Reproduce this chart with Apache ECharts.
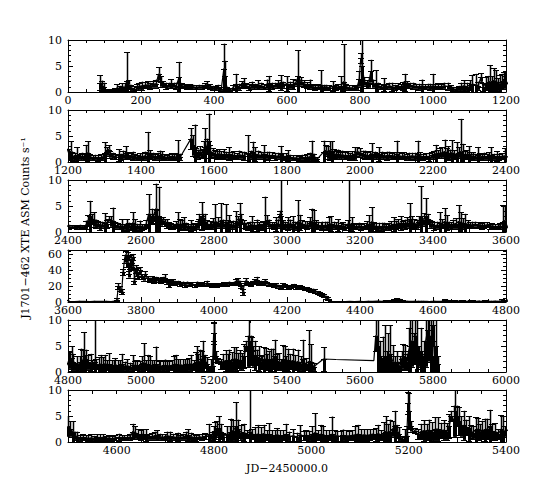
<!DOCTYPE html>
<html><head><meta charset="utf-8">
<script src="https://cdn.jsdelivr.net/npm/echarts@6/dist/echarts.min.js"></script>
<style>html,body{margin:0;padding:0;background:#fff}#c{width:541px;height:491px}</style>
</head><body><div id="c"></div>
<script>
// ---- Light curve data (JD-2450000, rate, 1-sigma error) ----
const t1=[88,93,98,104,112,120,128,135,142,149,
156,161,166,172,180,188,195,202,210,218,
226,234,242,248,254,260,268,276,283,290,
297,304,311,318,326,334,342,350,358,366,
374,380,388,396,404,412,420,427,430,436,
444,452,460,468,476,481,488,496,504,512,
520,528,536,544,550,558,566,574,583,590,
600,608,616,624,631,638,646,654,663,670,
678,686,692,700,708,716,725,733,741,748,
755,762,770,777,785,792,798,802,806,812,
818,824,830,836,843,850,858,865,872,880,
888,896,904,912,918,923,930,938,946,954,
962,970,978,986,993,999,1006,1014,1022,1030,
1040,1048,1056,1064,1072,1078,1084,1092,1100,1108,
1117,1124,1131,1137,1144,1150,1155,1161,1166,1172,
1177,1183,1189,1194,1198];
const v1=[1.8,1.2,0.9,0.3,0.2,0.3,0.4,0.8,0.6,1.0,
0.9,2.2,1.4,0.8,0.6,1.0,1.1,1.2,1.3,1.4,
1.2,1.5,1.6,3.5,2.0,1.5,1.2,1.3,1.6,1.3,
1.2,2.8,1.2,1.1,1.0,1.1,1.0,0.9,1.0,1.0,
1.2,1.4,1.0,0.8,0.7,0.9,0.6,4.5,3.0,0.6,
0.4,0.8,1.5,1.0,1.4,1.7,1.2,1.0,1.3,1.1,
1.4,1.2,1.0,1.5,1.6,1.2,1.3,1.5,1.8,1.4,
1.6,1.3,1.5,1.8,3.0,2.0,1.6,1.3,1.5,1.0,
0.8,1.0,1.4,0.9,1.0,0.8,1.1,0.9,1.0,1.1,
2.0,1.0,0.8,0.8,0.7,0.9,2.5,6.5,5.0,2.0,
1.5,1.8,4.0,1.6,1.5,1.2,1.0,1.4,1.0,1.2,
1.0,0.9,1.1,1.0,1.2,1.8,1.5,1.3,1.2,1.1,
1.0,1.2,1.0,1.1,1.0,1.2,1.0,1.1,1.0,1.2,
1.1,0.8,0.6,0.5,0.7,1.0,1.2,1.0,1.3,1.5,
1.4,1.2,2.8,1.0,1.6,1.8,2.0,1.5,2.2,2.0,
1.4,1.6,2.0,2.2,2.5];
const e1=[1.4,1.0,0.9,0.2,0.2,0.2,0.3,0.7,0.6,0.7,
0.8,5.4,0.9,0.6,0.5,0.6,0.7,0.8,0.6,0.7,
0.6,0.7,0.8,1.3,1.0,0.6,0.6,0.5,0.9,0.5,
0.6,3.0,0.5,0.4,0.4,0.4,0.4,0.4,0.4,0.4,
0.5,0.7,0.5,0.4,0.4,0.5,0.4,4.8,3.0,0.4,
0.3,0.5,2.0,0.6,0.7,1.0,0.5,0.6,0.7,0.5,
0.9,0.6,0.5,0.9,1.5,0.6,0.5,0.8,1.4,0.6,
1.4,0.7,1.0,0.6,5.0,0.8,0.7,0.6,0.9,0.5,
0.5,0.5,2.8,0.5,0.4,0.5,1.0,0.5,0.5,1.9,
7.2,0.6,0.5,0.5,0.4,0.5,1.5,1.0,5.5,0.8,
0.8,1.0,2.2,0.8,2.7,0.6,0.5,1.3,0.5,0.6,
0.8,0.5,0.6,0.5,0.8,1.7,0.6,0.5,0.6,0.5,
0.6,1.2,0.5,0.5,0.6,2.3,0.5,0.6,0.5,0.6,
0.7,0.5,0.4,0.4,0.5,0.8,1.1,0.8,1.0,1.8,
2.1,0.8,0.8,0.8,1.2,1.3,3.2,1.5,2.4,2.2,
1.2,1.7,1.5,1.6,1.3];

const t2=[1203,1207,1212,1218,1225,1232,1238,1245,1250,1255,
1261,1268,1275,1282,1290,1296,1301,1306,1311,1316,
1323,1330,1339,1346,1352,1358,1365,1372,1377,1384,
1390,1397,1404,1411,1419,1425,1432,1439,1446,1452,
1457,1464,1470,1477,1484,1490,1496,1502,1508,1537,
1543,1547,1552,1557,1562,1567,1572,1575,1580,1585,
1590,1596,1602,1608,1614,1620,1627,1634,1641,1648,
1655,1662,1669,1676,1683,1693,1700,1707,1712,1720,
1728,1736,1744,1752,1760,1768,1776,1783,1790,1796,
1802,1809,1816,1824,1832,1840,1848,1856,1862,1868,
1875,1882,1901,1906,1912,1918,1922,1928,1934,1940,
1946,1952,1960,1966,1972,1979,1986,1993,2000,2007,
2014,2020,2027,2033,2040,2046,2052,2059,2066,2073,
2080,2087,2093,2100,2107,2114,2121,2128,2135,2142,
2150,2158,2165,2172,2180,2189,2196,2202,2208,2214,
2220,2226,2232,2237,2241,2246,2251,2258,2265,2271,
2276,2281,2287,2292,2298,2304,2310,2316,2322,2328,
2334,2340,2347,2354,2360,2367,2375,2381,2388,2397];
const v2=[1.5,2.0,1.2,1.0,1.3,1.0,1.1,0.9,1.5,1.8,
1.0,0.8,0.9,0.8,0.9,1.0,1.8,2.0,2.4,1.5,
1.2,1.0,1.3,1.0,1.4,1.8,1.3,1.2,1.2,1.0,
0.9,1.1,1.0,1.2,1.8,1.5,1.2,1.0,1.1,1.3,
1.2,1.0,0.9,1.0,1.1,0.9,1.0,1.5,1.0,4.5,
3.2,2.8,1.8,1.5,2.0,1.6,2.5,2.8,3.0,4.0,
2.0,1.8,1.5,1.4,1.6,1.3,1.5,1.3,1.6,1.2,
1.3,1.1,1.4,1.3,1.2,1.7,1.4,1.9,1.5,1.4,
1.3,1.6,1.3,1.2,1.3,1.1,1.2,1.5,1.1,1.0,
1.2,0.9,0.8,0.8,0.7,0.9,0.8,0.9,1.0,1.6,
1.0,0.5,2.0,2.2,1.8,2.2,2.0,1.6,1.4,1.5,
1.3,1.4,1.2,1.3,1.1,1.3,1.6,2.0,1.8,1.5,
1.4,1.2,1.3,1.6,1.3,1.2,1.5,1.3,1.2,1.2,
1.3,1.1,1.2,1.6,1.2,1.1,1.2,1.0,1.1,1.2,
1.1,1.5,1.2,1.0,1.1,1.0,1.3,1.4,1.6,1.5,
1.7,1.8,2.0,1.6,1.7,1.5,1.8,1.4,1.6,1.8,
2.0,1.5,1.3,1.4,1.5,1.2,1.1,1.0,1.3,1.0,
0.9,1.1,1.0,1.1,1.3,1.0,1.1,1.0,1.1,1.2];
const e2=[1.0,2.0,0.8,0.8,1.5,0.6,0.7,0.6,1.8,2.2,
0.6,0.5,0.5,0.6,0.6,0.6,2.0,0.8,0.8,0.7,
0.6,0.5,1.2,0.6,0.8,1.2,0.6,0.6,0.8,0.6,
0.5,0.6,0.7,0.8,4.0,0.8,0.6,0.6,0.7,0.9,
0.9,0.5,0.5,0.6,0.6,0.6,0.7,2.7,0.6,2.0,
2.0,4.4,0.8,0.9,1.0,0.8,1.5,3.7,1.5,5.3,
1.2,0.8,0.8,0.8,0.9,0.8,1.0,0.7,1.2,0.7,
0.8,0.6,0.8,0.7,0.8,3.5,0.8,2.0,1.3,0.8,
0.7,1.6,0.7,0.8,0.6,0.7,0.6,1.6,0.6,0.7,
1.1,0.5,0.5,0.5,0.5,0.5,0.6,0.6,0.8,2.5,
0.6,0.4,2.1,1.0,1.2,1.8,2.0,0.9,0.8,0.9,
0.7,0.8,0.7,0.8,0.7,0.8,1.2,0.8,0.8,0.7,
0.8,0.7,0.8,2.0,0.7,0.6,1.3,0.7,0.6,0.8,
0.7,0.6,0.7,2.5,0.7,0.6,0.7,0.6,0.7,0.6,
0.7,2.6,0.7,0.6,0.6,0.8,0.7,0.8,1.7,0.8,
0.9,1.0,2.3,1.0,1.3,0.9,2.4,0.9,2.2,1.0,
6.3,2.0,0.8,0.9,1.5,0.7,0.8,0.6,1.6,0.7,
0.6,0.7,0.6,0.8,1.5,0.6,1.0,0.6,0.6,1.5];

const t3=[2403,2410,2418,2425,2432,2438,2444,2450,2455,2460,
2466,2471,2477,2482,2488,2494,2501,2507,2513,2518,
2523,2530,2537,2543,2548,2555,2562,2568,2572,2577,
2584,2590,2596,2602,2608,2614,2621,2626,2631,2634,
2640,2644,2649,2654,2660,2665,2671,2677,2683,2689,
2695,2700,2706,2712,2718,2724,2730,2737,2743,2749,
2755,2760,2766,2771,2776,2782,2788,2793,2798,2804,
2811,2818,2825,2832,2837,2841,2847,2853,2860,2865,
2870,2875,2881,2887,2893,2898,2903,2910,2917,2923,
2929,2935,2941,2946,2952,2958,2964,2970,2976,2981,
2984,2989,2995,3002,3008,3016,3022,3030,3036,3042,
3048,3055,3062,3068,3074,3080,3086,3092,3097,3104,
3110,3115,3121,3128,3134,3140,3147,3154,3160,3166,
3169,3177,3184,3190,3197,3204,3211,3218,3226,3232,
3238,3245,3252,3259,3266,3272,3279,3285,3292,3298,
3304,3311,3318,3324,3330,3337,3343,3349,3355,3362,
3368,3374,3380,3385,3391,3397,3403,3410,3418,3424,
3432,3437,3443,3450,3456,3462,3470,3476,3483,3489,
3495,3502,3508,3515,3522,3528,3534,3541,3548,3556,
3563,3570,3577,3584,3592,3597];
const v3=[1.0,1.0,1.0,0.9,1.0,1.0,1.0,1.4,2.2,3.0,
2.5,2.4,1.6,1.5,1.2,1.4,1.8,1.5,2.5,2.0,
2.2,1.3,1.2,1.0,1.2,1.0,1.3,1.2,1.0,1.8,
1.2,1.0,1.2,0.9,1.0,1.5,3.5,2.5,3.0,2.8,
4.5,3.0,3.0,2.0,2.2,1.8,1.6,1.3,1.2,1.1,
1.4,1.6,1.4,1.5,1.6,1.2,1.0,1.2,1.0,1.1,
1.4,2.5,3.0,2.6,2.0,1.5,1.4,1.3,1.6,2.0,
1.8,2.2,1.6,2.0,1.5,1.6,1.3,1.4,1.8,2.0,
2.5,2.5,1.5,1.2,1.0,1.2,1.4,1.2,1.3,1.2,
1.0,1.3,2.0,2.2,1.6,1.3,1.2,1.5,1.6,3.5,
3.0,1.5,1.3,1.6,1.5,1.5,1.2,2.0,1.8,1.5,
1.4,1.3,1.8,2.0,1.8,1.5,1.3,1.2,1.2,1.3,
1.2,1.4,1.6,1.3,1.2,1.3,1.1,1.2,1.0,1.5,
1.5,1.5,1.1,1.0,1.2,1.0,1.1,1.3,1.5,2.0,
1.2,1.0,1.1,1.0,1.2,1.0,1.1,1.3,1.5,1.4,
1.6,1.7,1.4,1.5,1.8,2.5,1.8,1.6,1.5,2.0,
3.0,2.4,3.0,2.5,1.6,1.5,1.2,1.3,1.8,1.6,
2.0,1.8,1.3,1.2,1.5,1.6,2.0,1.8,1.6,1.6,
1.5,1.3,1.4,1.5,1.3,1.4,1.2,1.3,1.4,1.1,
1.2,1.0,1.1,1.2,2.0,2.2];
const e3=[0.4,0.3,0.3,0.3,0.4,0.3,0.3,0.8,1.0,3.0,
1.0,1.4,0.8,0.7,0.8,0.6,1.8,0.8,0.5,1.0,
2.5,0.7,0.6,0.5,1.3,0.6,1.2,0.6,0.6,2.0,
1.3,0.6,1.0,0.6,0.5,0.8,3.8,1.0,1.5,0.7,
4.8,1.3,5.7,0.8,0.6,0.7,0.9,0.6,0.6,0.5,
0.7,2.2,1.1,0.9,1.2,0.6,0.6,1.1,0.6,0.6,
0.8,1.0,2.7,0.9,1.5,0.8,0.7,0.8,1.0,3.3,
1.0,3.3,0.8,3.3,0.8,1.6,0.7,0.8,2.2,1.0,
3.1,1.0,0.8,0.6,0.7,0.8,1.6,0.7,1.1,0.7,
0.6,0.8,4.8,1.0,0.8,0.6,0.7,1.3,0.8,0.6,
7.5,0.8,0.7,1.2,0.9,1.5,0.8,4.1,1.5,0.8,
0.7,0.8,1.0,2.5,2.4,0.8,0.7,0.7,0.8,0.7,
0.8,1.4,1.4,0.7,0.7,1.2,0.6,0.7,0.6,0.8,
9.0,1.3,0.6,0.5,0.6,0.6,0.6,0.8,1.7,2.8,
0.7,0.8,0.7,0.8,0.6,0.6,0.7,0.8,1.3,0.8,
0.9,1.3,0.8,0.9,1.0,3.0,1.2,0.9,0.9,1.0,
5.8,1.2,3.5,1.0,0.8,0.7,0.8,0.7,2.0,0.9,
2.6,1.4,0.7,0.7,0.9,1.0,3.2,2.0,1.0,1.9,
0.8,0.6,0.6,0.5,0.6,0.5,0.6,0.6,0.5,0.5,
0.5,0.5,0.4,0.6,3.2,2.9];

const t4=[3605,3618,3630,3645,3660,3672,3690,3705,3718,3728,
3734,3738,3742,3747,3751,3755,3758,3761,3764,3767,
3770,3773,3776,3779,3782,3785,3789,3793,3797,3802,
3807,3812,3818,3824,3830,3836,3842,3848,3854,3860,
3865,3870,3876,3882,3888,3894,3900,3907,3914,3920,
3927,3934,3940,3947,3954,3960,3967,3973,3980,3987,
3994,4000,4007,4014,4021,4028,4035,4042,4049,4055,
4060,4065,4070,4074,4079,4084,4088,4094,4100,4106,
4112,4117,4123,4129,4134,4140,4146,4152,4158,4164,
4170,4176,4183,4188,4194,4200,4206,4212,4218,4224,
4230,4236,4242,4248,4254,4260,4266,4272,4278,4284,
4290,4296,4302,4307,4312,4316,4320,4325,4335,4348,
4360,4372,4385,4398,4410,4422,4435,4448,4460,4472,
4485,4494,4501,4505,4510,4515,4519,4525,4530,4536,
4542,4548,4554,4560,4566,4572,4578,4584,4590,4596,
4604,4610,4616,4622,4628,4633,4637,4643,4649,4655,
4661,4667,4673,4679,4683,4689,4694,4699,4704,4710,
4715,4721,4725,4731,4737,4742,4746,4752,4758,4764,
4770,4776,4782,4790,4795,4799];
const v4=[0.8,0.6,0.9,0.7,0.5,0.9,0.7,0.8,0.6,1.0,
3.0,20,17,13,38,55,60,50,58,35,
48,55,45,57,27,42,38,33,40,32,
30,35,30,28,30,27,29,28,27,29,
30,26,23,25,26,24,25,23,24,22,
24,22,23,21,23,22,23,22,24,22,
21,22,21,22,22,23,22,24,23,24,
26,27,24,20,13,24,27,23,22,25,
26,28,24,25,23,27,24,22,22,21,
22,20,18,22,21,19,18,20,21,19,
18,19,18,17,17,16,15,15,14,12,
11,9,8,6,4,2,0.5,0.3,0.5,0.6,
0.4,0.7,0.5,0.8,0.6,0.9,0.7,1.0,0.8,1.2,
1.5,2.0,3.0,2.5,2.0,1.2,1.0,0.8,0.9,0.8,
0.7,0.8,0.7,0.9,0.8,0.9,0.7,0.8,0.6,0.8,
0.9,0.8,0.9,0.8,1.0,2.0,1.8,1.5,1.4,1.5,
1.3,1.0,1.1,1.2,1.3,1.0,0.9,1.0,1.2,1.1,
1.0,0.9,1.0,0.9,1.0,1.2,1.3,1.0,0.9,0.8,
1.0,0.9,1.1,1.5,1.2,1.6];
const e4=[0.5,0.5,0.6,0.5,0.5,0.6,0.5,0.6,0.5,0.6,
1.5,4,3,3,4,5,5,6,5,4,
6,5,5,4,4,5,5,4,4,3,
3,4,3,3,3,3,3,3,3,3,
5,3,4,3,3,3,2,3,2,3,
2,2,2,2,3,2,2,2,3,2,
2,2,2,2,2,2,2,2,2,2,
3,3,3,2,4,3,3,2,2,2,
3,4,2,2,2,2,2,2,2,2,
2,2,2,2,2,2,2,2,2,2,
2,2,2,2,2,2,2,2,2,2,
2,2,2,2,2,1.5,1,0.5,0.4,0.5,
0.5,0.6,0.5,0.6,0.5,0.6,0.6,0.7,0.6,0.8,
1.0,1.2,2.0,1.5,2.0,0.8,1.0,0.6,0.6,0.5,
0.6,0.7,0.5,0.6,0.7,0.6,0.5,0.5,0.5,0.5,
0.7,0.5,0.4,0.5,0.6,1.5,1.2,1.0,1.0,1.0,
1.2,0.6,0.7,0.8,1.0,0.6,0.6,0.5,0.8,0.9,
0.6,0.6,0.8,0.5,0.6,0.8,1.2,0.8,0.6,0.6,
0.5,0.6,0.6,2.0,0.8,1.4];

const t5=[4802,4806,4810,4815,4819,4826,4832,4835,4840,4845,
4850,4856,4862,4867,4873,4878,4884,4890,4896,4902,
4908,4913,4920,4926,4930,4936,4942,4948,4955,4963,
4970,4977,4984,4990,4996,5002,5008,5014,5019,5024,
5030,5036,5042,5048,5053,5060,5066,5072,5078,5084,
5090,5096,5102,5108,5114,5120,5126,5132,5138,5144,
5150,5153,5157,5162,5167,5171,5176,5181,5186,5192,
5196,5199,5201,5205,5212,5219,5225,5232,5237,5242,
5248,5255,5260,5266,5272,5278,5283,5288,5293,5296,
5300,5303,5308,5313,5318,5323,5328,5332,5338,5342,
5346,5351,5356,5361,5367,5372,5378,5384,5390,5394,
5398,5402,5409,5416,5423,5430,5437,5444,5451,5459,
5466,5473,5500,5534,5638,5643,5648,5655,5662,5668,
5673,5678,5683,5690,5696,5700,5705,5709,5714,5718,
5723,5728,5733,5737,5742,5747,5752,5757,5762,5766,
5771,5776,5780,5785,5790,5795,5799,5804,5809,5813];
const v5=[2.2,2.5,2.6,2.0,1.0,1.5,1.6,2.0,2.2,3.0,
2.5,1.8,1.8,1.5,2.0,1.5,1.4,1.5,1.4,1.6,
1.3,1.5,1.2,1.3,1.4,1.2,1.3,1.5,1.1,1.2,
1.0,1.4,1.2,1.3,1.2,1.5,1.8,1.3,1.5,1.4,
1.2,1.3,1.5,1.2,1.2,1.1,1.3,1.2,1.2,1.3,
1.4,1.5,1.3,1.4,1.3,1.4,1.5,1.4,1.6,1.3,
1.8,2.0,1.8,2.0,2.5,3.0,2.0,1.5,0.6,1.0,
1.2,7.5,6.0,3.0,2.2,1.5,2.0,2.2,2.0,2.3,
2.0,2.5,2.5,2.2,2.3,2.0,3.0,5.0,4.0,6.0,
5.0,4.0,3.0,3.2,2.8,2.6,2.0,1.8,2.4,2.5,
2.0,2.3,2.3,2.5,3.0,2.0,2.0,1.5,2.5,2.2,
2.0,2.3,2.0,2.2,1.8,2.0,1.6,2.5,1.5,2.0,
2.0,1.0,2.5,2.4,2.2,7.0,5.0,3.0,2.5,3.0,
2.0,3.0,3.5,2.0,1.5,1.8,1.0,1.2,2.5,3.0,
2.8,2.0,4.0,5.0,6.0,4.5,7.0,5.0,3.0,4.0,
2.0,3.0,6.0,8.0,7.0,5.0,9.0,3.0,5.0,1.5];
const e5=[1.6,1.5,2.4,1.5,0.8,1.5,1.4,2.5,2.0,4.7,
1.8,1.4,1.7,0.8,8.5,1.0,1.5,1.8,1.4,1.7,
1.0,2.1,1.1,1.0,1.3,1.1,1.0,2.0,0.9,1.3,
0.8,1.8,0.9,1.0,1.0,1.5,3.7,1.0,1.8,1.6,
1.1,1.0,3.4,1.1,1.0,1.0,1.1,1.1,0.9,1.0,
1.6,1.8,1.2,1.1,1.2,1.1,1.0,1.2,1.7,1.0,
2.0,3.0,1.7,2.3,1.5,3.0,1.3,1.3,0.5,1.5,
1.8,2.2,3.5,1.0,0.5,1.0,1.5,2.0,1.5,2.0,
1.8,2.3,2.3,1.5,1.9,1.6,2.3,1.0,3.0,5.0,
2.0,2.7,2.0,2.8,1.5,2.4,1.2,1.2,2.4,2.2,
1.5,1.8,2.2,2.0,3.2,1.5,1.6,1.0,2.7,2.8,
1.0,2.2,1.5,2.3,1.5,2.3,1.4,3.7,1.2,6.0,
3.3,0.8,2.3,0,0,3.0,6.0,3.0,4.3,6.0,
2.0,4.5,5.5,3.2,1.5,2.2,1.0,1.8,1.5,2.4,
2.4,1.5,4.5,5.5,5.0,3.0,5.0,6.0,2.0,4.5,
1.5,3.0,5.0,4.0,5.0,6.0,4.0,3.0,6.0,1.5];

// ---- panels ----
const panelXMin=[0,1200,2400,3600,4800,4500];
const panelXMax=[1200,2400,3600,4800,6000,5400];
const panelXStep=[200,200,200,200,200,50];
const panelYMax=[10,10,10,66,10,10];
const panelYStep=[5,5,5,20,5,5];
const xTitle='JD\u22122450000.0';
const yTitle='J1701\u2212462 XTE ASM Counts s\u207B\u00B9';

const T=t1.concat(t2,t3,t4,t5), V=v1.concat(v2,v3,v4,v5), E=e1.concat(e2,e3,e4,e5);
const N=Math.min(T.length,V.length,E.length);
const FONT='DejaVu Serif';
const BLACK='#000';

function seg(x1,y1,x2,y2,w){return {type:'line',shape:{x1:x1,y1:y1,x2:x2,y2:y2},style:{stroke:BLACK,lineWidth:w,fill:null}};}

function renderErr(params, api){
  const cs=params.coordSys;
  const L=cs.x, R=cs.x+cs.width, Tp=cs.y, B=cs.y+cs.height;
  const t=api.value(0), v=api.value(1), e=api.value(2);
  const kids=[];
  if(!(e>0)) return {type:'group',children:kids};
  const p=api.coord([t,v]), ph=api.coord([t,v+e]), pl=api.coord([t,v-e]);
  const hw=3;
  const x=Math.round(p[0]);
  if(x<L || x>R) return {type:'group',children:kids};
  const xa=Math.max(L,x-hw), xb=Math.min(R,x+hw);
  const yv=Math.min(B,Math.max(Tp,p[1]));
  // upper half: thin bar; lower half: dense (overlapping daily points)
  const ya=Math.max(Tp,ph[1]);
  if(yv>ya) kids.push(seg(x+0.5,ya,x+0.5,yv,1.5));
  const yb=Math.min(B,pl[1]);
  if(yb>yv) kids.push(seg(x+0.5,yv,x+0.5,yb,3));
  [ph[1],pl[1],p[1]].forEach(function(yy){
    if(yy>=Tp && yy<=B){const y=Math.round(yy)+0.5;kids.push(seg(xa,y,xb,y,1));}
  });
  return {type:'group',children:kids};
}

const grids=[],xAxes=[],yAxes=[],series=[];
for(let i=0;i<6;i++){
  const x0=panelXMin[i], x1=panelXMax[i];
  grids.push({left:68,width:438,top:40+70*i,height:52,show:false});
  const tickLen = i===5?4:5;
  const xBase={gridIndex:i,type:'value',min:x0,max:x1,interval:panelXStep[i],
    axisLine:{show:true,onZero:false,lineStyle:{color:BLACK,width:1}},
    axisTick:{show:true,inside:true,length:tickLen,lineStyle:{color:BLACK,width:1}},
    minorTick:{show:i!==5,splitNumber:4,length:3,lineStyle:{color:BLACK,width:1}},
    splitLine:{show:false},minorSplitLine:{show:false}};
  xAxes.push(Object.assign({},xBase,{position:'bottom',
    axisLabel:{show:true,color:BLACK,fontFamily:FONT,fontSize:11,margin:3,
      formatter:function(v){return (v%200===0)?String(v):'';}}}));
  xAxes.push(Object.assign({},xBase,{position:'top',axisLabel:{show:false}}));
  const yBase={gridIndex:i,type:'value',min:0,max:panelYMax[i],interval:panelYStep[i],
    axisLine:{show:true,onZero:false,lineStyle:{color:BLACK,width:1}},
    axisTick:{show:true,inside:true,length:5,lineStyle:{color:BLACK,width:1}},
    minorTick:{show:true,splitNumber:(i===3?4:5),length:3,lineStyle:{color:BLACK,width:1}},
    splitLine:{show:false},minorSplitLine:{show:false}};
  yAxes.push(Object.assign({},yBase,{position:'left',
    axisLabel:{show:true,color:BLACK,fontFamily:FONT,fontSize:11,margin:6,showMaxLabel:(i!==3),
      formatter:function(v){return String(v);}}}));
  yAxes.push(Object.assign({},yBase,{position:'right',axisLabel:{show:false}}));

  const lineData=[], errData=[];
  for(let k=0;k<N;k++){
    if(T[k]>=x0-60 && T[k]<=x1+60) lineData.push([T[k],V[k]]);
    if(T[k]>=x0 && T[k]<=x1) errData.push([T[k],V[k],E[k]]);
  }
  series.push({type:'line',xAxisIndex:2*i,yAxisIndex:2*i,data:lineData,symbol:'none',showSymbol:false,
    clip:true,lineStyle:{color:BLACK,width:1.2},silent:true,animation:false});
  series.push({type:'custom',xAxisIndex:2*i,yAxisIndex:2*i,data:errData,dimensions:['t','v','e'],
    encode:{x:0,y:1},renderItem:renderErr,silent:true,animation:false});
}

const chart=echarts.init(document.getElementById('c'),null,{renderer:'svg',width:541,height:491});
chart.setOption({
  backgroundColor:'#fff',animation:false,
  grid:grids,xAxis:xAxes,yAxis:yAxes,series:series,
  graphic:[
    {type:'text',x:287,y:468,style:{text:xTitle,fontFamily:FONT,fontSize:11,fill:BLACK,
      textAlign:'center',textVerticalAlign:'middle',align:'center',verticalAlign:'middle'}},
    {type:'text',x:25,y:228,rotation:Math.PI/2,style:{text:yTitle,fontFamily:FONT,fontSize:11,fill:BLACK,
      textAlign:'center',textVerticalAlign:'middle',align:'center',verticalAlign:'middle'}}
  ]
});
</script></body></html>
